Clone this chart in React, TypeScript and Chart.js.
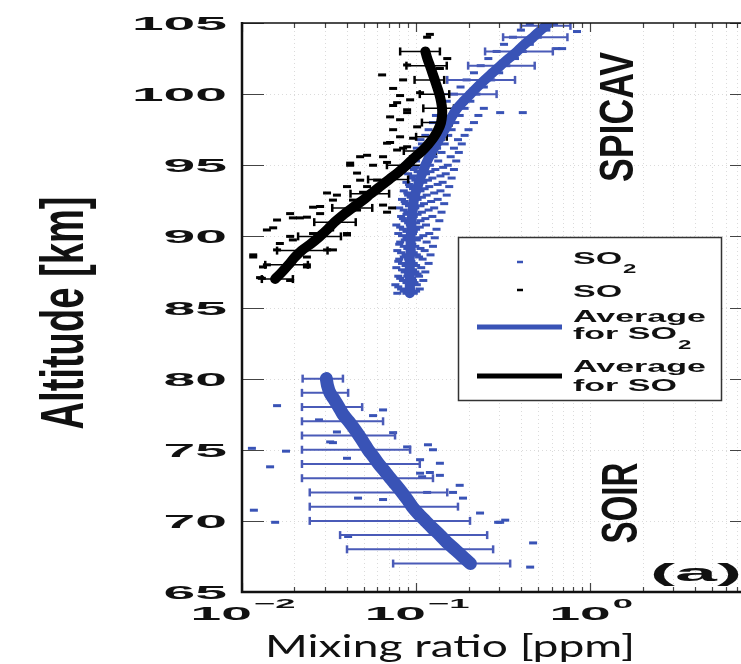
import React, { useEffect, useRef } from "react";
import { Chart, registerables } from "chart.js";

Chart.register(...registerables);

// ---------------- data ----------------
const yTicks = [65, 70, 75, 80, 85, 90, 95, 100, 105];
const xTickValues = [0.01, 0.1, 1];
const xTickBase = "10";
const xTickExp = ["\u22122", "\u22121", "0"];

// SPICAV SO2 average profile
const spicavSO2Alt = [86, 86.5, 87, 87.5, 88, 88.5, 89, 89.5, 90, 90.5, 91, 91.5, 92, 92.5, 93, 93.5, 94, 94.5, 95, 95.5, 96, 96.5, 97, 97.5, 98, 98.5, 99, 99.5, 100, 100.5, 101, 101.5, 102, 102.5, 103, 103.5, 104, 104.5, 105];
const spicavSO2Avg = [0.092, 0.092, 0.092, 0.092, 0.092, 0.092, 0.093, 0.093, 0.093, 0.094, 0.094, 0.095, 0.096, 0.097, 0.099, 0.102, 0.105, 0.109, 0.113, 0.118, 0.124, 0.131, 0.138, 0.146, 0.154, 0.162, 0.172, 0.187, 0.205, 0.225, 0.248, 0.275, 0.305, 0.34, 0.38, 0.42, 0.47, 0.52, 0.58];

// SPICAV SO average profile
const spicavSOAlt = [87, 87.5, 88, 88.5, 89, 89.5, 90, 90.5, 91, 91.5, 92, 92.5, 93, 93.5, 94, 94.5, 95, 95.5, 96, 96.5, 97, 97.5, 98, 98.5, 99, 99.5, 100, 100.5, 101, 101.5, 102, 102.5, 103];
const spicavSOAvg = [0.0155, 0.017, 0.0185, 0.02, 0.022, 0.025, 0.028, 0.031, 0.034, 0.038, 0.043, 0.049, 0.055, 0.062, 0.07, 0.079, 0.088, 0.097, 0.108, 0.118, 0.127, 0.134, 0.139, 0.141, 0.141, 0.139, 0.136, 0.132, 0.128, 0.124, 0.12, 0.116, 0.113];

// SOIR SO2 average profile
const soirSO2Alt = [67, 67.5, 68, 68.5, 69, 69.5, 70, 70.5, 71, 71.5, 72, 72.5, 73, 73.5, 74, 74.5, 75, 75.5, 76, 76.5, 77, 77.5, 78, 78.5, 79, 79.5, 80];
const soirSO2Avg = [0.205, 0.185, 0.167, 0.15, 0.137, 0.124, 0.113, 0.103, 0.095, 0.089, 0.083, 0.077, 0.071, 0.066, 0.061, 0.057, 0.053, 0.05, 0.047, 0.044, 0.041, 0.038, 0.036, 0.034, 0.032, 0.031, 0.0305];

// SOIR SO2 error bars
const soirBarAlt = [80, 79, 78, 77, 76, 75, 74, 73, 72, 71, 70, 69, 68, 67];
const soirBarLo = [0.0223, 0.0221, 0.0221, 0.0221, 0.0221, 0.0221, 0.0221, 0.0221, 0.0245, 0.0245, 0.0245, 0.0366, 0.0401, 0.0738];
const soirBarHi = [0.038, 0.0407, 0.049, 0.0646, 0.0757, 0.0924, 0.105, 0.125, 0.151, 0.174, 0.204, 0.256, 0.277, 0.347];

// SPICAV SO2 error bars
const spicavBarAlt = [104.8, 104, 103, 102, 101, 100];
const spicavBarLo = [0.4, 0.316, 0.249, 0.199, 0.151, 0.14];
const spicavBarHi = [0.77, 0.74, 0.61, 0.48, 0.37, 0.29];

// SPICAV SO error bars
const soBarAlt = [87, 88, 89, 90, 91, 92, 93, 94, 95, 96, 97, 98, 99, 100, 101, 102, 103];
const soBarLo = [0.013, 0.0136, 0.0159, 0.021, 0.026, 0.033, 0.042, 0.053, 0.068, 0.085, 0.1, 0.108, 0.11, 0.105, 0.098, 0.088, 0.081];
const soBarHi = [0.0196, 0.0239, 0.031, 0.037, 0.045, 0.056, 0.07, 0.09, 0.11, 0.13, 0.15, 0.16, 0.165, 0.155, 0.145, 0.15, 0.137];

// individual SO2 retrievals [altitude km, mixing ratio ppm]
const so2Points = [
  [86.0, 0.078], [86.0, 0.088], [86.0, 0.097], [86.3, 0.082], [86.3, 0.094], [86.3, 0.105],
  [86.6, 0.076], [86.6, 0.091], [86.6, 0.101], [86.9, 0.084], [86.9, 0.096], [86.9, 0.11],
  [87.2, 0.079], [87.2, 0.089], [87.2, 0.104], [87.5, 0.086], [87.5, 0.099], [87.5, 0.113],
  [87.8, 0.077], [87.8, 0.092], [87.8, 0.107], [88.1, 0.083], [88.1, 0.097], [88.1, 0.118],
  [88.4, 0.08], [88.4, 0.09], [88.4, 0.109], [88.7, 0.087], [88.7, 0.101], [88.7, 0.121],
  [89.0, 0.078], [89.0, 0.094], [89.0, 0.112], [89.3, 0.085], [89.3, 0.099], [89.3, 0.125],
  [89.6, 0.081], [89.6, 0.093], [89.6, 0.115], [89.9, 0.088], [89.9, 0.104], [89.9, 0.128],
  [90.2, 0.079], [90.2, 0.096], [90.2, 0.119], [90.5, 0.084], [90.5, 0.1], [90.5, 0.131],
  [90.8, 0.077], [90.8, 0.092], [90.8, 0.114], [91.1, 0.086], [91.1, 0.106], [91.1, 0.136],
  [91.4, 0.082], [91.4, 0.097], [91.4, 0.124], [91.7, 0.089], [91.7, 0.108], [91.7, 0.14],
  [92.0, 0.08], [92.0, 0.099], [92.0, 0.127], [92.3, 0.087], [92.3, 0.111], [92.3, 0.145],
  [92.6, 0.083], [92.6, 0.102], [92.6, 0.133], [92.9, 0.09], [92.9, 0.115], [92.9, 0.15],
  [93.2, 0.085], [93.2, 0.106], [93.2, 0.138], [93.5, 0.092], [93.5, 0.119], [93.5, 0.155],
  [93.8, 0.088], [93.8, 0.11], [93.8, 0.142], [94.1, 0.094], [94.1, 0.124], [94.1, 0.16],
  [94.4, 0.09], [94.4, 0.114], [94.4, 0.148], [94.7, 0.097], [94.7, 0.129], [94.7, 0.165],
  [95.0, 0.093], [95.0, 0.12], [95.0, 0.152], [95.3, 0.1], [95.3, 0.134], [95.3, 0.17],
  [95.6, 0.097], [95.6, 0.126], [95.6, 0.158], [95.9, 0.104], [95.9, 0.14], [95.9, 0.176],
  [96.2, 0.101], [96.2, 0.132], [96.2, 0.165], [96.5, 0.108], [96.5, 0.146], [96.5, 0.183],
  [96.8, 0.106], [96.8, 0.139], [96.8, 0.174], [97.1, 0.113], [97.1, 0.153], [97.1, 0.19],
  [97.5, 0.118], [97.5, 0.16], [97.5, 0.2], [98.0, 0.125], [98.0, 0.168], [98.0, 0.215],
  [98.5, 0.13], [98.5, 0.178], [98.5, 0.228], [99.0, 0.14], [99.0, 0.19], [99.0, 0.245],
  [99.5, 0.15], [99.5, 0.205], [100.0, 0.165], [100.0, 0.222], [100.5, 0.18], [100.5, 0.245],
  [101.0, 0.195], [101.0, 0.27], [101.5, 0.215], [101.5, 0.3], [102.0, 0.235], [102.0, 0.33],
  [102.5, 0.26], [102.5, 0.37], [103.0, 0.29], [103.0, 0.41], [103.5, 0.32], [103.5, 0.45],
  [104.0, 0.36], [104.0, 0.5], [104.5, 0.4], [104.5, 0.56], [104.9, 0.45], [104.9, 0.62],
  [86.15, 0.085], [86.15, 0.1], [86.45, 0.079], [86.45, 0.093], [86.75, 0.088], [86.75, 0.098],
  [87.05, 0.081], [87.05, 0.095], [87.35, 0.09], [87.35, 0.102], [87.65, 0.083], [87.65, 0.096],
  [87.95, 0.087], [87.95, 0.1], [88.25, 0.079], [88.25, 0.094], [88.55, 0.085], [88.55, 0.104],
  [88.85, 0.082], [88.85, 0.097], [89.15, 0.089], [89.15, 0.106], [89.45, 0.08], [89.45, 0.095],
  [89.75, 0.086], [89.75, 0.101], [90.05, 0.083], [90.05, 0.11], [90.35, 0.088], [90.35, 0.097],
  [90.65, 0.081], [90.65, 0.105], [90.95, 0.09], [90.95, 0.1], [91.25, 0.084], [91.25, 0.113],
  [91.55, 0.088], [91.55, 0.102], [91.85, 0.085], [91.85, 0.118], [92.15, 0.091], [92.15, 0.106],
  [92.45, 0.086], [92.45, 0.122], [92.75, 0.093], [92.75, 0.108], [93.05, 0.089], [93.05, 0.127],
  [93.35, 0.096], [93.35, 0.112], [93.65, 0.091], [93.65, 0.133], [93.95, 0.099], [93.95, 0.117],
  [94.25, 0.095], [94.25, 0.138], [94.55, 0.102], [94.55, 0.121], [94.85, 0.099], [94.85, 0.143],
  [98.7, 0.304], [98.7, 0.41], [104.4, 0.84], [103.2, 0.69], [103.2, 0.64],
  [78.1, 0.0159], [75.1, 0.0114], [74.9, 0.0179], [73.8, 0.0145], [70.75, 0.0117], [69.9, 0.0155],
  [75.5, 0.0333], [74.4, 0.0401], [77.1, 0.0277], [71.6, 0.0464], [68.9, 0.0407], [76.25, 0.0351],
  [75.55, 0.0321], [77.8, 0.0646], [77.4, 0.0566], [76.2, 0.0738], [75.2, 0.0888], [75.35, 0.117],
  [75.0, 0.125], [74.05, 0.137], [74.3, 0.1054], [73.4, 0.12], [71.5, 0.0646], [73.35, 0.1054],
  [73.2, 0.137], [72.5, 0.178], [72.0, 0.163], [71.6, 0.186], [70.55, 0.233], [69.9, 0.296],
  [68.45, 0.47], [66.75, 0.452], [72.0, 0.1157], [73.1, 0.1083], [70.05, 0.325], [69.9, 0.304],
];

// individual SO retrievals [altitude km, mixing ratio ppm]
const soPoints = [
  [90.45, 0.0139], [88.7, 0.0116], [87.85, 0.0132], [87.1, 0.0127], [91.15, 0.0159], [91.6, 0.0189],
  [91.3, 0.0215], [92.05, 0.0256], [91.6, 0.0281], [92.55, 0.0333], [95.15, 0.0418], [95.6, 0.0477],
  [94.45, 0.0458], [93.5, 0.0401], [90.45, 0.0321], [90.2, 0.0401], [89.05, 0.0333], [87.85, 0.0236],
  [86.9, 0.0189], [89.75, 0.0196], [89.5, 0.0165], [93.05, 0.0308], [93.5, 0.0523], [92.55, 0.0434],
  [90.2, 0.0256], [88.55, 0.0236], [88.55, 0.0116], [87.05, 0.013], [88.0, 0.0139], [90.6, 0.0151],
  [89.05, 0.0159], [90.0, 0.0189], [91.3, 0.0196], [88.0, 0.0236], [91.35, 0.0236], [92.1, 0.0281],
  [89.05, 0.0308], [92.9, 0.0351], [90.1, 0.0401], [95.0, 0.0418], [91.85, 0.0458], [93.1, 0.0496],
  [93.95, 0.0477], [95.0, 0.0566], [93.95, 0.0597], [92.2, 0.0646], [91.7, 0.0681], [92.0, 0.0728],
  [95.7, 0.0523], [95.6, 0.0646], [96.07, 0.0778], [101.35, 0.0638], [100.4, 0.0738], [101.0, 0.0842],
  [102.05, 0.0888], [104.0, 0.1157], [99.6, 0.0924], [99.4, 0.0778], [98.4, 0.0709], [98.2, 0.0809],
  [98.9, 0.0888], [97.5, 0.0738], [97.0, 0.0809], [96.3, 0.0888], [96.55, 0.0681], [95.6, 0.0961],
  [97.7, 0.1014], [100.1, 0.1054], [99.9, 0.0809], [99.2, 0.0738], [98.7, 0.0888], [96.6, 0.0709],
  [96.2, 0.0842], [95.2, 0.0681], [96.9, 0.0961], [101.8, 0.137], [102.5, 0.151], [104.2, 0.12],
];

// ---------------- layout / style ----------------
const CW = 760;
const CH = 664;
const AREA = { left: 242, top: 23, right: 752, bottom: 592 };
const BLUE = "#3953b6";
const BAR_BLUE = "#4a5bb8";
const LABEL_FONT = '"Liberation Sans", Arial, sans-serif';

function profile(alts: number[], vals: number[]) {
  return alts.map((a, i) => ({ x: vals[i], y: a }));
}
function bars(alts: number[], lo: number[], hi: number[]) {
  const out: { x: number; y: number }[] = [];
  alts.forEach((a, i) => {
    out.push({ x: lo[i], y: a });
    out.push({ x: hi[i], y: a });
    out.push({ x: hi[i], y: NaN });
  });
  return out;
}
function pts(list: number[][]) {
  return list.map(([a, v]) => ({ x: v, y: a }));
}

function hText(ctx: CanvasRenderingContext2D, text: string, x: number, y: number, font: string, sx: number) {
  ctx.save();
  ctx.font = font;
  ctx.textAlign = "left";
  ctx.textBaseline = "alphabetic";
  ctx.translate(x, y);
  ctx.scale(sx, 1);
  ctx.fillText(text, 0, 0);
  ctx.restore();
}
function measure(ctx: CanvasRenderingContext2D, text: string, font: string) {
  ctx.save();
  ctx.font = font;
  const w = ctx.measureText(text).width;
  ctx.restore();
  return w;
}
function vText(ctx: CanvasRenderingContext2D, text: string, cy: number, baseX: number, size: number, weight: string, capPx: number, lenPx: number) {
  const font = `${weight} ${size}px ${LABEL_FONT}`;
  const w = measure(ctx, text, font);
  const sxg = capPx / (0.716 * size);
  const sy = lenPx / w;
  ctx.save();
  ctx.font = font;
  ctx.textAlign = "center";
  ctx.textBaseline = "alphabetic";
  ctx.translate(baseX, cy);
  ctx.scale(sxg, sy);
  ctx.rotate(-Math.PI / 2);
  ctx.fillText(text, 0, 0);
  ctx.restore();
}

const decor = {
  id: "decor",
  beforeDatasetsDraw(chart: any) {
    const { ctx, chartArea: a, scales } = chart;
    const x = scales.x;
    const y = scales.y;
    ctx.save();
    ctx.strokeStyle = "rgba(0,0,0,0.14)";
    ctx.lineWidth = 1;
    ctx.setLineDash([1, 3]);
    for (let d = -2; d <= 0; d++) {
      for (let m = 1; m <= 9; m++) {
        const v = m * Math.pow(10, d);
        const px = Math.round(x.getPixelForValue(v)) + 0.5;
        if (px <= a.left + 1 || px >= a.right) continue;
        ctx.beginPath();
        ctx.moveTo(px, a.top);
        ctx.lineTo(px, a.bottom);
        ctx.stroke();
      }
    }
    yTicks.forEach((t) => {
      const py = Math.round(y.getPixelForValue(t)) + 0.5;
      if (py <= a.top + 1 || py >= a.bottom - 1) return;
      ctx.beginPath();
      ctx.moveTo(a.left, py);
      ctx.lineTo(a.right, py);
      ctx.stroke();
    });
    ctx.restore();
  },
  afterDraw(chart: any) {
    const { ctx, chartArea: a, scales } = chart;
    const x = scales.x;
    const y = scales.y;
    ctx.save();
    // tick marks
    ctx.strokeStyle = "#444";
    ctx.lineWidth = 1.2;
    yTicks.forEach((t) => {
      const py = Math.round(y.getPixelForValue(t)) + 0.5;
      ctx.beginPath();
      ctx.moveTo(a.left, py);
      ctx.lineTo(a.left + 22, py);
      ctx.moveTo(a.right, py);
      ctx.lineTo(a.right - 22, py);
      ctx.stroke();
    });
    for (let d = -2; d <= 0; d++) {
      for (let m = 1; m <= 9; m++) {
        const v = m * Math.pow(10, d);
        const px = Math.round(x.getPixelForValue(v)) + 0.5;
        if (px > a.right) continue;
        const len = m === 1 ? 9 : 5;
        ctx.beginPath();
        ctx.moveTo(px, a.bottom);
        ctx.lineTo(px, a.bottom - len);
        ctx.moveTo(px, a.top);
        ctx.lineTo(px, a.top + len);
        ctx.stroke();
      }
    }
    // frame
    ctx.strokeStyle = "#111";
    ctx.lineWidth = 1.6;
    ctx.beginPath();
    ctx.moveTo(a.left, a.top);
    ctx.lineTo(a.right, a.top);
    ctx.stroke();
    ctx.lineWidth = 2.5;
    ctx.beginPath();
    ctx.moveTo(a.right, a.bottom);
    ctx.lineTo(a.left, a.bottom);
    ctx.lineTo(a.left, a.top - 1);
    ctx.stroke();
    ctx.restore();

    ctx.save();
    ctx.fillStyle = "#111";
    // y tick labels
    const tickFont = `bold 19px ${LABEL_FONT}`;
    yTicks.forEach((t) => {
      const py = y.getPixelForValue(t);
      const s = String(t);
      const w = measure(ctx, s, tickFont) * 3.0;
      hText(ctx, s, 227 - w, py + 7, tickFont, 3.0);
    });
    // x tick labels
    const supFont = `bold 13px ${LABEL_FONT}`;
    xTickValues.forEach((v, i) => {
      const px = x.getPixelForValue(v);
      const wb = measure(ctx, xTickBase, tickFont) * 2.9;
      const ws = measure(ctx, xTickExp[i], supFont) * 2.8;
      const x0 = px - (wb + ws) / 2;
      hText(ctx, xTickBase, x0, 620, tickFont, 2.9);
      hText(ctx, xTickExp[i], x0 + wb + 2, 608, supFont, 2.8);
    });
    // x axis title
    const xtFont = `30px Lato, "Open Sans", sans-serif`;
    const xt = "Mixing ratio [ppm]";
    const xtw = measure(ctx, xt, xtFont);
    const xsx = 370 / xtw;
    hText(ctx, xt, 450 - 185, 657, xtFont, xsx);
    // y axis title
    vText(ctx, "Altitude [km]", 313, 83, 30, "bold", 44, 233);
    // instrument names
    vText(ctx, "SPICAV", 117, 633, 34, "bold", 35, 130);
    vText(ctx, "SOIR", 503, 637, 34, "bold", 36, 81);
    // panel label
    const aFont = `bold 23px ${LABEL_FONT}`;
    const aw = measure(ctx, "(a)", aFont);
    hText(ctx, "(a)", 650, 581, aFont, 92 / aw);
    ctx.restore();

    // legend
    ctx.save();
    const L = { x: 458, y: 237, w: 263, h: 163 };
    ctx.fillStyle = "#fff";
    ctx.fillRect(L.x, L.y, L.w, L.h);
    ctx.strokeStyle = "#333";
    ctx.lineWidth = 1.5;
    ctx.strokeRect(L.x + 0.5, L.y + 0.5, L.w, L.h);
    const lf = `bold 17px ${LABEL_FONT}`;
    const lsf = `bold 12px ${LABEL_FONT}`;
    const lsx = 2.0;
    const tx = 573;
    ctx.lineWidth = 2.5;
    ctx.strokeStyle = BLUE;
    ctx.beginPath();
    ctx.moveTo(517, 262);
    ctx.lineTo(523, 262);
    ctx.stroke();
    ctx.strokeStyle = "#000";
    ctx.beginPath();
    ctx.moveTo(517, 290);
    ctx.lineTo(523, 290);
    ctx.stroke();
    ctx.lineWidth = 5;
    ctx.strokeStyle = BLUE;
    ctx.beginPath();
    ctx.moveTo(477, 327);
    ctx.lineTo(562, 327);
    ctx.stroke();
    ctx.strokeStyle = "#000";
    ctx.beginPath();
    ctx.moveTo(477, 376);
    ctx.lineTo(562, 376);
    ctx.stroke();
    ctx.fillStyle = "#111";
    const wSO = measure(ctx, "SO", lf) * lsx;
    const wForSO = measure(ctx, "for SO", lf) * lsx;
    hText(ctx, "SO", tx, 264, lf, lsx);
    hText(ctx, "2", tx + wSO + 1, 273, lsf, lsx);
    hText(ctx, "SO", tx, 297, lf, lsx);
    hText(ctx, "Average", tx, 322, lf, lsx);
    hText(ctx, "for SO", tx, 339, lf, lsx);
    hText(ctx, "2", tx + wForSO + 1, 349, lsf, lsx);
    hText(ctx, "Average", tx, 372, lf, lsx);
    hText(ctx, "for SO", tx, 391, lf, lsx);
    ctx.restore();
  },
};

export default function App() {
  const ref = useRef<HTMLCanvasElement | null>(null);
  useEffect(() => {
    if (!ref.current) return;
    const lineBase = { showLine: true, pointRadius: 0, fill: false, tension: 0.3, borderCapStyle: "round", borderJoinStyle: "round" };
    const barBase = { showLine: true, fill: false, tension: 0, pointStyle: "line", pointRotation: 90, pointRadius: 4, pointBorderWidth: 2.5, borderWidth: 2, spanGaps: false };
    const ptBase = { showLine: false, pointStyle: "line", pointRadius: 4, pointBorderWidth: 3 };
    const chart = new Chart(ref.current, {
      type: "scatter",
      data: {
        datasets: [
          { ...lineBase, label: "Average for SO", data: profile(spicavSOAlt, spicavSOAvg), borderColor: "#000", borderWidth: 10, order: 0 },
          { ...lineBase, label: "Average for SO2", data: profile(spicavSO2Alt, spicavSO2Avg), borderColor: BLUE, borderWidth: 10, order: 1 },
          { ...lineBase, label: "Average for SO2 (SOIR)", data: profile(soirSO2Alt, soirSO2Avg), borderColor: BLUE, borderWidth: 13, order: 2 },
          { ...barBase, label: "SO error", data: bars(soBarAlt, soBarLo, soBarHi), borderColor: "#000", pointBorderColor: "#000", borderWidth: 1.5, order: 3 },
          { ...ptBase, label: "SO", data: pts(soPoints), borderColor: "#000", pointBorderColor: "#000", order: 4 },
          { ...barBase, label: "SO2 error SPICAV", data: bars(spicavBarAlt, spicavBarLo, spicavBarHi), borderColor: BAR_BLUE, pointBorderColor: BAR_BLUE, order: 5 },
          { ...barBase, label: "SO2 error SOIR", data: bars(soirBarAlt, soirBarLo, soirBarHi), borderColor: BAR_BLUE, pointBorderColor: BAR_BLUE, order: 6 },
          { ...ptBase, label: "SO2", data: pts(so2Points), borderColor: BLUE, pointBorderColor: BLUE, order: 7 },
        ] as any,
      },
      options: {
        responsive: false,
        animation: false,
        devicePixelRatio: 1,
        events: [],
        layout: { padding: { left: AREA.left, top: AREA.top, right: CW - AREA.right, bottom: CH - AREA.bottom } },
        scales: {
          x: { type: "logarithmic", min: 0.01, max: 8.5, display: false },
          y: { type: "linear", min: 65, max: 105, display: false },
        },
        plugins: { legend: { display: false }, tooltip: { enabled: false } },
      } as any,
      plugins: [decor as any],
    });
    return () => chart.destroy();
  }, []);
  return (
    <div style={{ position: "fixed", left: 0, top: 0, width: 741, height: 664, overflow: "hidden", background: "#fff" }}>
      <canvas ref={ref} width={CW} height={CH} style={{ display: "block", width: CW, height: CH }} />
    </div>
  );
}
